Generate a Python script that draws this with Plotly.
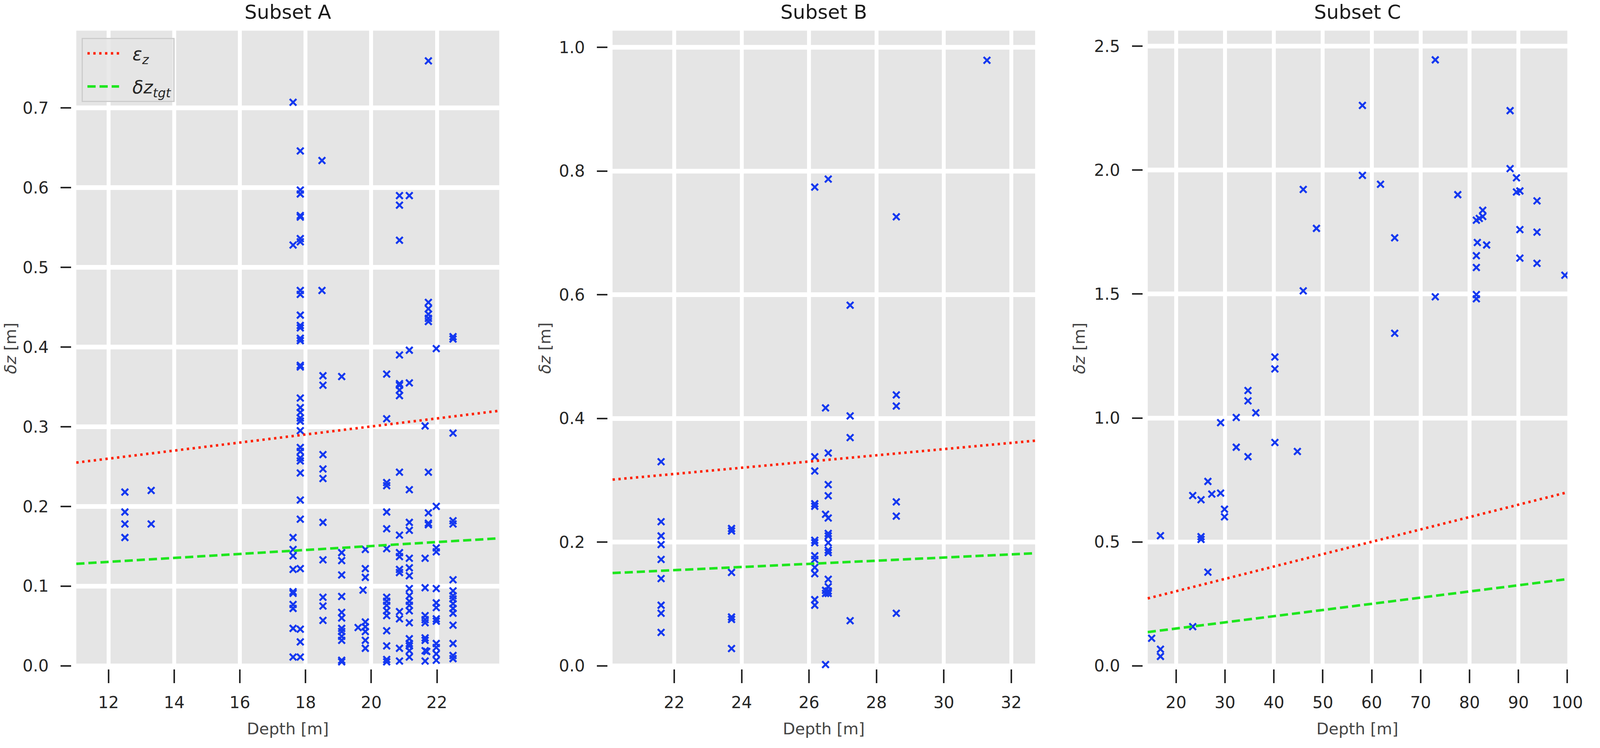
import plotly.graph_objects as go

# positions below are measured on the 4953x1914 reference and used as fractions,
# so the figure can fill whatever window it is opened in
RW, RH = 4953, 1914

# ---- Subset A: depth of each sounding column and the dz values in it ----
a_depth_cols = [12.5, 13.3, 17.62, 17.84, 18.50, 18.53, 19.10, 19.60, 19.75, 19.82,
                20.47, 20.86, 21.16, 21.64, 21.69, 21.74, 21.98, 22.49]
a_dz_cols = [
    [0.218, 0.193, 0.178, 0.161],
    [0.220, 0.178],
    [0.707, 0.528, 0.161, 0.146, 0.138, 0.121, 0.093, 0.091, 0.077, 0.072, 0.047, 0.011],
    [0.646, 0.597, 0.592, 0.565, 0.563, 0.536, 0.532, 0.471, 0.466, 0.440, 0.427, 0.424,
     0.411, 0.408, 0.377, 0.375, 0.336, 0.324, 0.318, 0.311, 0.307, 0.295, 0.274, 0.269,
     0.261, 0.257, 0.242, 0.208, 0.184, 0.122, 0.046, 0.030, 0.011],
    [0.634, 0.471],
    [0.364, 0.352, 0.265, 0.247, 0.235, 0.180, 0.133, 0.086, 0.075, 0.057],
    [0.363, 0.142, 0.132, 0.114, 0.087, 0.067, 0.060, 0.047, 0.043, 0.037, 0.032, 0.007, 0.005],
    [0.048],
    [0.095],
    [0.146, 0.122, 0.111, 0.055, 0.049, 0.043, 0.032, 0.022],
    [0.366, 0.310, 0.230, 0.226, 0.193, 0.172, 0.147, 0.086, 0.081, 0.076, 0.069, 0.063,
     0.044, 0.025, 0.008, 0.005],
    [0.590, 0.578, 0.534, 0.390, 0.354, 0.352, 0.346, 0.339, 0.243, 0.164, 0.142, 0.137,
     0.121, 0.117, 0.068, 0.059, 0.022, 0.006],
    [0.590, 0.396, 0.355, 0.221, 0.180, 0.170, 0.135, 0.123, 0.113, 0.097, 0.088, 0.081,
     0.076, 0.069, 0.054, 0.034, 0.028, 0.025, 0.019, 0.011],
    [0.301, 0.135, 0.098, 0.063, 0.058, 0.054, 0.035, 0.032, 0.019, 0.006],
    [0.018],
    [0.759, 0.456, 0.448, 0.441, 0.436, 0.432, 0.243, 0.192, 0.179, 0.177],
    [0.398, 0.200, 0.148, 0.143, 0.097, 0.079, 0.073, 0.059, 0.056, 0.028, 0.023, 0.015, 0.007],
    [0.413, 0.410, 0.292, 0.182, 0.178, 0.108, 0.094, 0.088, 0.084, 0.078, 0.072, 0.066,
     0.051, 0.028, 0.013, 0.009],
]

# ---- Subset B ----
b_depth_cols = [21.61, 23.70, 26.17, 26.49, 26.57, 27.22, 28.59, 31.28]
b_dz_cols = [
    [0.330, 0.233, 0.210, 0.196, 0.172, 0.141, 0.098, 0.085, 0.054],
    [0.222, 0.218, 0.151, 0.079, 0.075, 0.028],
    [0.774, 0.338, 0.315, 0.262, 0.258, 0.203, 0.199, 0.178, 0.172, 0.159, 0.149, 0.107, 0.098],
    [0.417, 0.245, 0.122, 0.117, 0.002],
    [0.787, 0.344, 0.293, 0.275, 0.239, 0.214, 0.210, 0.199, 0.187, 0.183, 0.140, 0.128,
     0.121, 0.117],
    [0.583, 0.404, 0.369, 0.073],
    [0.726, 0.438, 0.420, 0.265, 0.242, 0.085],
    [0.979],
]

# ---- Subset C (scattered, one depth per point) ----
c_depth = [15.0, 16.8, 16.8, 16.8, 23.4, 23.4, 25.1, 25.1, 25.1, 26.5, 26.5, 27.3,
           29.1, 29.1, 29.9, 29.9, 32.3, 32.3, 34.7, 34.7, 34.7, 36.3, 40.2, 40.2, 40.2,
           44.8, 46.0, 46.0, 48.7, 58.1, 58.1, 61.8, 64.7, 64.7, 73.0, 73.0, 77.6,
           81.4, 81.4, 81.4, 81.4, 81.4, 81.6, 82.0, 82.7, 82.7, 83.5, 88.3, 88.3,
           89.6, 89.6, 90.3, 90.3, 90.3, 93.8, 93.8, 93.8, 99.5]
c_dz = [0.111, 0.525, 0.067, 0.038, 0.687, 0.158, 0.670, 0.521, 0.510, 0.744, 0.378, 0.693,
        0.981, 0.697, 0.632, 0.601, 1.002, 0.882, 1.111, 1.069, 0.844, 1.021, 1.246, 1.198, 0.901,
        0.865, 1.922, 1.513, 1.765, 2.261, 1.979, 1.943, 1.727, 1.342, 2.445, 1.489, 1.901,
        1.798, 1.655, 1.607, 1.498, 1.481, 1.708, 1.805, 1.838, 1.813, 1.698, 2.240, 2.006,
        1.969, 1.912, 1.916, 1.760, 1.645, 1.876, 1.750, 1.624, 1.576]

# uncertainty lines (end points read at the axis limits)
a_line_depth = [11.02, 23.90]
a_eps = [0.255, 0.320]
a_tgt = [0.128, 0.160]
b_line_depth = [20.17, 32.71]
b_eps = [0.301, 0.364]
b_tgt = [0.150, 0.182]
c_line_depth = [14.2, 100.0]
c_eps = [0.272, 0.700]
c_tgt = [0.136, 0.350]

# tick labels
a_xticks = [12, 14, 16, 18, 20, 22]
a_yticks = [0.0, 0.1, 0.2, 0.3, 0.4, 0.5, 0.6, 0.7]
b_xticks = [22, 24, 26, 28, 30, 32]
b_yticks = [0.0, 0.2, 0.4, 0.6, 0.8, 1.0]
c_xticks = [20, 30, 40, 50, 60, 70, 80, 90, 100]
c_yticks = [0.0, 0.5, 1.0, 1.5, 2.0, 2.5]


def expand(depth_cols, dz_cols):
    xs, ys = [], []
    for d, vals in zip(depth_cols, dz_cols):
        xs += [d] * len(vals)
        ys += vals
    return xs, ys


a_depth, a_dz = expand(a_depth_cols, a_dz_cols)
b_depth, b_dz = expand(b_depth_cols, b_dz_cols)

FONT = "DejaVu Sans"
TXT = "#262626"
BLUE = "#1438f0"
RED = "#ff2200"
GREEN = "#1ee61e"
GAP_L, GAP_B = 15, 8  # ticks sit a little away from the grey area (reference px)
SP = "&nbsp;&nbsp;"   # room between legend line and label

panels = [
    dict(title="Subset A", box=(238.5, 1561, 79, 1719), xr=(11.02, 23.90), yr=(0, 0.797),
         pts=(a_depth, a_dz), lines=(a_line_depth, a_eps, a_tgt), xt=a_xticks, yt=a_yticks, ylab=33),
    dict(title="Subset B", box=(1915, 3236, 79, 1719), xr=(20.17, 32.71), yr=(0, 1.027),
         pts=(b_depth, b_dz), lines=(b_line_depth, b_eps, b_tgt), xt=b_xticks, yt=b_yticks, ylab=1703),
    dict(title="Subset C", box=(3588, 4900, 79, 1719), xr=(14.2, 100.02), yr=(0, 2.563),
         pts=(c_depth, c_dz), lines=(c_line_depth, c_eps, c_tgt), xt=c_xticks, yt=c_yticks, ylab=3374),
]

fig = go.Figure()
layout = {}

for i, p in enumerate(panels, start=1):
    sfx = "" if i == 1 else str(i)
    xa, ya = "x" + sfx, "y" + sfx
    x0p, x1p, ytop, ybot = p["box"]
    xsc = (p["xr"][1] - p["xr"][0]) / (x1p - x0p)
    ysc = (p["yr"][1] - p["yr"][0]) / (ybot - ytop)

    layout["xaxis" + sfx] = dict(
        domain=[(x0p - GAP_L) / RW, x1p / RW],
        range=[p["xr"][0] - GAP_L * xsc, p["xr"][1]],
        anchor=ya, tickvals=p["xt"], ticktext=[str(v) for v in p["xt"]],
        showgrid=True, gridcolor="white", gridwidth=10, zeroline=False, showline=False,
        ticks="outside", ticklen=35, tickwidth=3.5, tickcolor=TXT, ticklabelstandoff=14,
        tickfont=dict(family=FONT, size=42, color=TXT),
    )
    layout["yaxis" + sfx] = dict(
        domain=[1 - (ybot + GAP_B) / RH, 1 - ytop / RH],
        range=[p["yr"][0] - GAP_B * ysc, p["yr"][1]],
        anchor=xa, tickvals=p["yt"], ticktext=[f"{v:.1f}" for v in p["yt"]],
        showgrid=True, gridcolor="white", gridwidth=12, zeroline=False, showline=False,
        ticks="outside", ticklen=27, tickwidth=4, tickcolor=TXT, ticklabelstandoff=22,
        tickfont=dict(family=FONT, size=42, color=TXT),
    )

    # grey data area, below the grid lines
    fig.add_shape(type="rect", xref=xa, yref=ya, x0=p["xr"][0], x1=p["xr"][1],
                  y0=p["yr"][0], y1=p["yr"][1], fillcolor="#e5e5e5", line_width=0, layer="below")

    fig.add_trace(go.Scatter(
        x=p["pts"][0], y=p["pts"][1], mode="markers", xaxis=xa, yaxis=ya, showlegend=False,
        marker=dict(symbol="x-thin", size=17, color=BLUE, line=dict(width=5, color=BLUE)),
    ))
    ld, eps, tgt = p["lines"]
    fig.add_trace(go.Scatter(
        x=ld, y=eps, mode="lines", xaxis=xa, yaxis=ya, name=SP + "<i>ε<sub>z</sub></i>",
        legendgroup="eps", showlegend=(i == 1),
        line=dict(color=RED, width=6.5, dash="6px,9px"),
    ))
    fig.add_trace(go.Scatter(
        x=ld, y=tgt, mode="lines", xaxis=xa, yaxis=ya, name=SP + "<i>δz<sub>tgt</sub></i>",
        legendgroup="tgt", showlegend=(i == 1),
        line=dict(color=GREEN, width=6.5, dash="21px,10px"),
    ))

    cx = (x0p + x1p) / 2 / RW
    fig.add_annotation(text=p["title"], xref="paper", yref="paper", x=cx, y=1,
                       xanchor="center", yanchor="top", showarrow=False,
                       font=dict(family=FONT, size=50, color="#1a1a1a"))
    fig.add_annotation(text="Depth [m]", xref="paper", yref="paper", x=cx, y=1 - 1882 / RH,
                       xanchor="center", yanchor="middle", showarrow=False,
                       font=dict(family=FONT, size=41, color="#444444"))
    fig.add_annotation(text="<i>δz</i> [m]", xref="paper", yref="paper", x=p["ylab"] / RW,
                       y=1 - 899 / RH, xanchor="center", yanchor="middle", showarrow=False,
                       textangle=-90, font=dict(family=FONT, size=41, color="#444444"))

fig.update_layout(
    autosize=True,
    margin=dict(l=0, r=0, t=0, b=0),
    paper_bgcolor="white", plot_bgcolor="white",
    legend=dict(
        x=255 / RW, y=1 - 98 / RH, xanchor="left", yanchor="top",
        bgcolor="rgba(229,229,229,0.8)", bordercolor="#cccccc", borderwidth=3,
        font=dict(family=FONT, size=46, color=TXT), itemwidth=81, indentation=7,
        tracegroupgap=22,
    ),
    **layout,
)

# fill the browser window edge to edge
fit_js = (
    "document.body.style.margin='0';"
    "document.body.style.overflow='hidden';"
    "Plotly.Plots.resize(document.getElementById('{plot_id}'));"
)

fig.write_html("out.html", default_width="100vw", default_height="100vh",
               post_script=fit_js, config={"displayModeBar": False})
